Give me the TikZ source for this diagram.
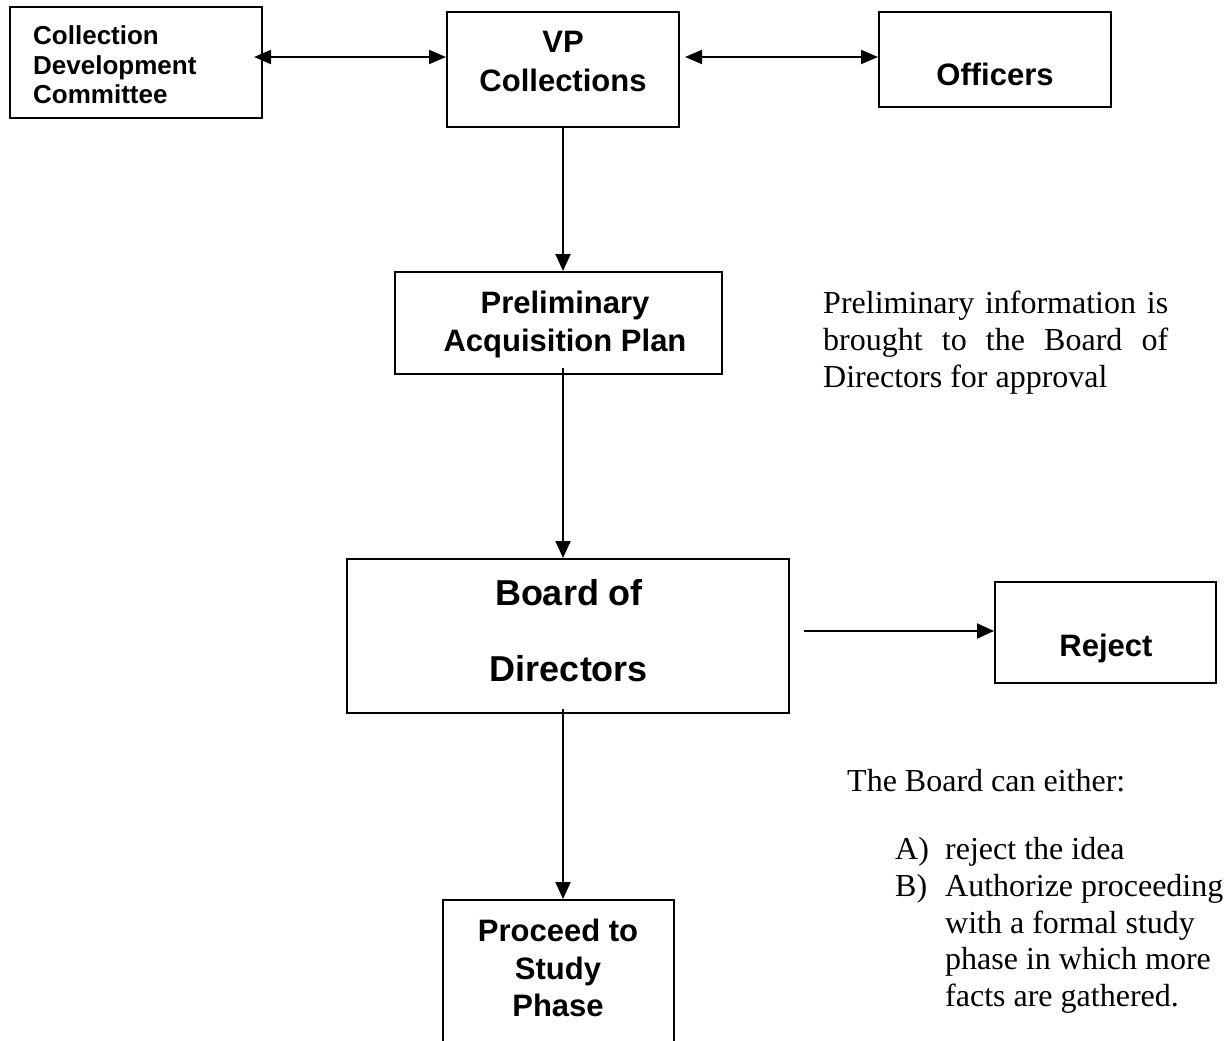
\documentclass[tikz,border=0pt]{standalone}
\usepackage{fontspec}
\setmainfont{Liberation Serif}
\newfontfamily\arialfont{Liberation Sans}
\usetikzlibrary{arrows.meta,calc}
\begin{document}
\begin{tikzpicture}[x=1pt,y=-1pt,
  box/.style={draw, line width=2pt, inner sep=0pt, anchor=center},
  conn/.style={line width=2pt, -{Triangle[length=17pt,width=15pt]}},
  dconn/.style={line width=2pt, {Triangle[length=17pt,width=14pt]}-{Triangle[length=17pt,width=14pt]}},
  sanslbl/.style={font=\arialfont\bfseries\fontsize{31}{39}\selectfont, inner sep=0pt, align=center},
  serif/.style={font=\fontsize{32}{36.7}\selectfont, inner sep=0pt, align=left}
]
\useasboundingbox (0,0) rectangle (1226,1041);
\fill[white] (0,0) rectangle (1226,1041);

% boxes
\node[box, minimum width=252, minimum height=111] (cdc) at (136,62.5) {};
\node[box, minimum width=232, minimum height=115] (vp) at (563,69.5) {};
\node[box, minimum width=232, minimum height=95] (off) at (995,59.5) {};
\node[box, minimum width=327, minimum height=102] (pre) at (558.5,323) {};
\node[box, minimum width=442, minimum height=154] (brd) at (568,636) {};
\node[box, minimum width=221, minimum height=101] (rej) at (1105.5,632.5) {};
\node[box, minimum width=231, minimum height=180] (proc) at (558.5,990) {};

% box texts
\node[sanslbl, font=\arialfont\bfseries\fontsize{26}{29.5}\selectfont, align=left, anchor=west] (cdct) at (33,65.2) {Collection\\Development\\Committee};
\node[sanslbl] (vpt) at (563,61.5) {VP\\Collections};
\node[sanslbl, anchor=base] (offt) at (995,85) {Officers};
\node[sanslbl, font=\arialfont\bfseries\fontsize{31}{38}\selectfont] (pret) at (565,324) {Preliminary\\Acquisition Plan};
\node[sanslbl, font=\arialfont\bfseries\fontsize{36}{76}\selectfont] (brdt) at (569,631) {Board of\\Directors};
\node[sanslbl, anchor=base] (rejt) at (1106,656) {Reject};
\node[sanslbl, font=\arialfont\bfseries\fontsize{31}{37.5}\selectfont] (proct) at (558,968) {Proceed to\\Study\\Phase};

% side notes
\node[serif, anchor=north west] (note1) at (823,291) {\makebox[345pt][s]{Preliminary information is}\\\makebox[345pt][s]{brought to the Board of}\\Directors for approval};
\node[serif, anchor=base west] (note2) at (847,791) {The Board can either:};
\node[serif, anchor=base west] (labA) at (895,859) {A)};
\node[serif, anchor=base west] (itemA) at (945,859) {reject the idea};
\node[serif, anchor=base west] (labB) at (895,896) {B)};
\node[serif, anchor=north west] (itemB) at (945,874.1) {Authorize proceeding\\with a formal study\\phase in which more\\facts are gathered.};

% connectors
\coordinate (row) at (600,57);
\draw[dconn] ($(cdc.east |- row)+(-9,0)$) -- (vp.west |- row);
\draw[dconn] ($(vp.east |- row)+(5,0)$) -- (off.west |- row);
\draw[conn] (vp.south) -- (vp.south |- pre.north);
\draw[conn] ($(vp.south |- pre.south)+(0,-7)$) -- (vp.south |- brd.north);
\draw[conn] ($(vp.south |- brd.south)+(0,-5)$) -- (vp.south |- proc.north);
\coordinate (rrow) at (900,631);
\draw[conn] ($(brd.east |- rrow)+(14,0)$) -- (rej.west |- rrow);
\end{tikzpicture}
\end{document}
